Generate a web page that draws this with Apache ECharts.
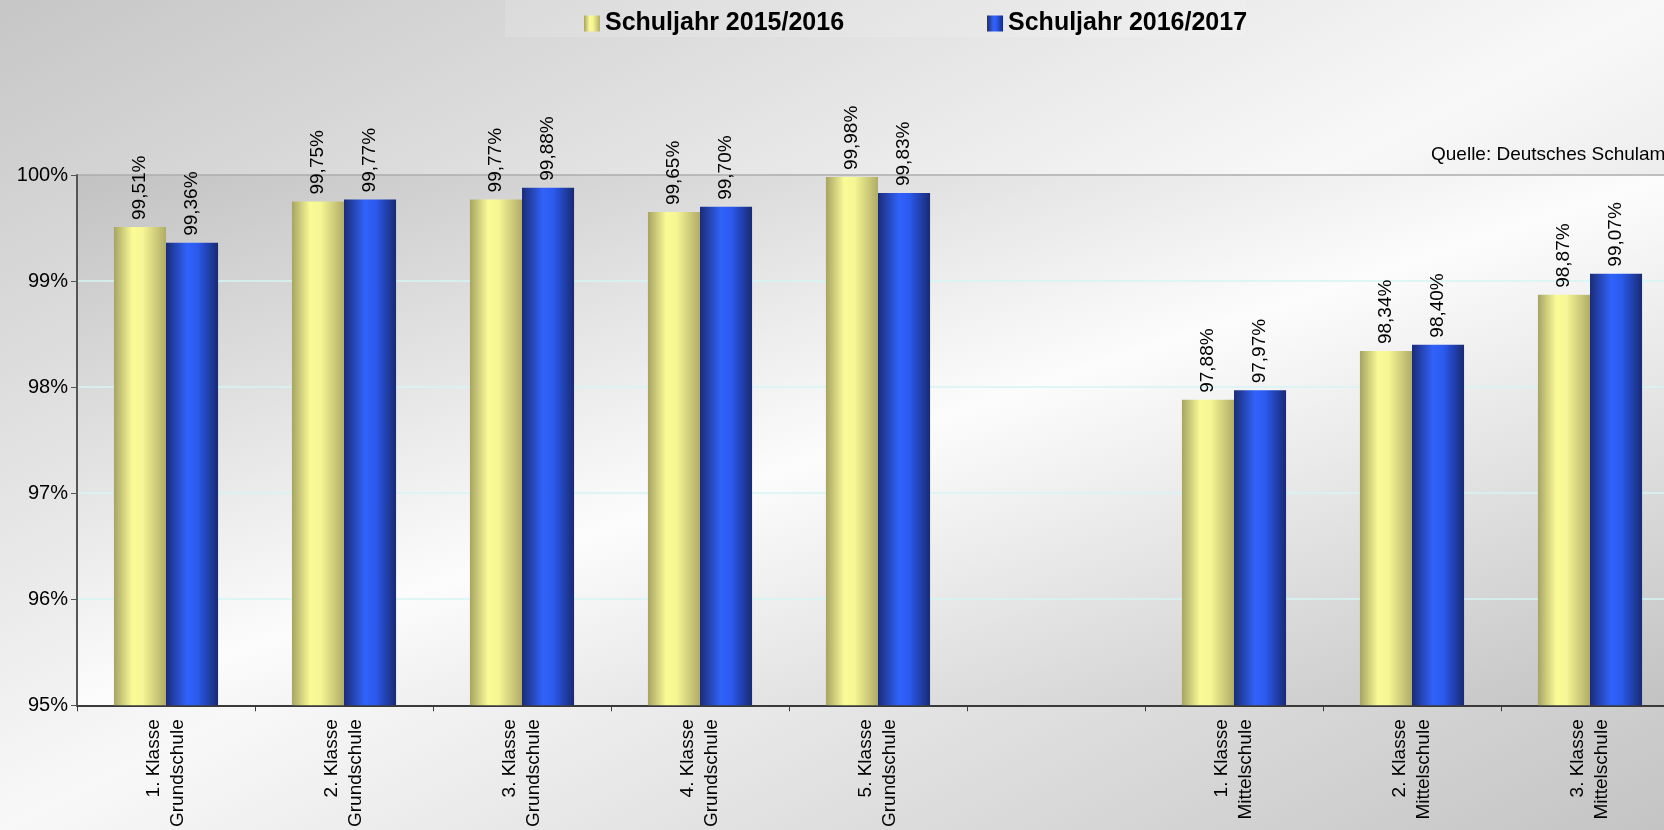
<!DOCTYPE html>
<html>
<head>
<meta charset="utf-8">
<script src="https://cdn.jsdelivr.net/npm/echarts@6/dist/echarts.min.js"></script>
<style>html,body{margin:0;padding:0;overflow:hidden;width:1664px;height:830px;}#c{width:1680px;height:830px;}</style>
</head>
<body>
<div id="c"></div>
<script>
const categories = ['1. Klasse\nGrundschule', '2. Klasse\nGrundschule', '3. Klasse\nGrundschule', '4. Klasse\nGrundschule', '5. Klasse\nGrundschule', '', '1. Klasse\nMittelschule', '2. Klasse\nMittelschule', '3. Klasse\nMittelschule'];
const series1Name = 'Schuljahr 2015/2016';
const series2Name = 'Schuljahr 2016/2017';
const values2015 = [99.51, 99.75, 99.77, 99.65, 99.98, null, 97.88, 98.34, 98.87];
const values2016 = [99.36, 99.77, 99.88, 99.70, 99.83, null, 97.97, 98.40, 99.07];
const yTicks = [95, 96, 97, 98, 99, 100];
const sourceText = 'Quelle: Deutsches Schulamt';

const FONT = 'Liberation Sans, Arial, sans-serif';
function grad(stops) {
  return new echarts.graphic.LinearGradient(0, 0, 1, 0, stops);
}
const yellowGrad = grad([
  {offset: 0, color: '#a6a462'},
  {offset: 0.35, color: '#fafa96'},
  {offset: 0.55, color: '#f6f694'},
  {offset: 1, color: '#b0ac68'}
]);
const blueGrad = grad([
  {offset: 0, color: '#1a2c78'},
  {offset: 0.4, color: '#3062fa'},
  {offset: 0.6, color: '#2c5aee'},
  {offset: 1, color: '#182a72'}
]);
const fmt = p => p.value == null ? '' : p.value.toFixed(2).replace('.', ',') + '%';
const labelCfg = {
  show: true, position: 'top', rotate: 90, align: 'left', verticalAlign: 'middle',
  distance: 7, formatter: fmt, fontFamily: FONT, fontSize: 19, color: '#000'
};

const chart = echarts.init(document.getElementById('c'));
chart.setOption({
  animation: false,
  backgroundColor: {
    type: 'linear', global: true, x: 0, y: 0, x2: 663, y2: 1329,
    colorStops: [
      {offset: 0, color: '#c6c6c6'},
      {offset: 0.5, color: '#f8f8f8'},
      {offset: 1, color: '#c4c4c4'}
    ]
  },
  graphic: [
    {type: 'rect', left: 505, top: 0, shape: {width: 740, height: 37}, style: {fill: 'rgba(255,255,255,0.14)'}, z: 0},
    {type: 'text', left: 1431, top: 145, style: {text: sourceText, font: '19px ' + FONT, fill: '#000'}, z: 10}
  ],
  legend: {
    left: 579, top: 6, itemWidth: 16, itemHeight: 16, itemGap: 143,
    icon: 'rect',
    textStyle: {fontFamily: FONT, fontSize: 25, fontWeight: 'bold', color: '#000'},
    data: [series1Name, series2Name]
  },
  grid: {
    left: 77, top: 175, right: 1, bottom: 124, containLabel: false,
    show: true, borderWidth: 0,
    backgroundColor: {
      type: 'linear', x: 0, y: 0, x2: 0.198, y2: 1.8,
      colorStops: [
        {offset: 0, color: '#c2c2c2'},
        {offset: 0.5, color: '#fcfcfc'},
        {offset: 1, color: '#c2c2c2'}
      ]
    }
  },
  xAxis: {
    type: 'category', data: categories,
    axisLine: {lineStyle: {color: '#3a3a3a', width: 2}},
    axisTick: {show: true, alignWithLabel: false, length: 6, lineStyle: {color: '#3a3a3a', width: 1}},
    axisLabel: {rotate: 90, margin: 14, fontFamily: FONT, fontSize: 19, lineHeight: 24, color: '#000', interval: 0}
  },
  yAxis: {
    type: 'value', min: yTicks[0], max: yTicks[yTicks.length - 1], interval: 1,
    axisLine: {show: true, lineStyle: {color: '#555', width: 2}},
    axisTick: {show: true, length: 6, lineStyle: {color: '#555'}},
    axisLabel: {formatter: '{value}%', margin: 9, fontFamily: FONT, fontSize: 20, color: '#000'},
    splitLine: {show: true, lineStyle: {width: 1.5, color: ['#d4f4f4', '#d4f4f4', '#d4f4f4', '#d4f4f4', '#d4f4f4', '#acacac']}}
  },
  series: [
    {name: series1Name, type: 'bar', data: values2015, barGap: '0%', barCategoryGap: '41.5%',
     itemStyle: {color: yellowGrad}, label: labelCfg, z: 3},
    {name: series2Name, type: 'bar', data: values2016, barGap: '0%', barCategoryGap: '41.5%',
     itemStyle: {color: blueGrad}, label: labelCfg, z: 3}
  ]
});
</script>
</body>
</html>
